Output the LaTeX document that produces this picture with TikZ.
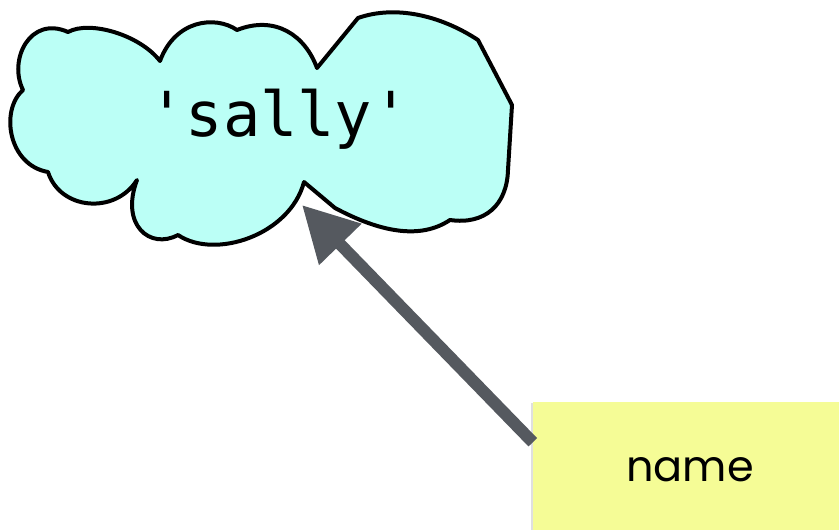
\documentclass[tikz,border=0pt]{standalone}
\usepackage{fontspec}
\usepackage{tikz}
\usetikzlibrary{arrows.meta}
\usetikzlibrary{shadows}
\newfontfamily\valuefont{DejaVu Sans Mono}
\newfontfamily\namefont{Poppins}
\definecolor{cloudfill}{RGB}{187,255,246}
\definecolor{notefill}{RGB}{245,252,150}
\definecolor{pointer}{RGB}{85,89,95}
\tikzstyle{cloud} = [draw=black,fill=cloudfill,line width=4pt,line join=round]
\tikzstyle{value} = [font=\valuefont\fontsize{62}{74}\selectfont,anchor=base]
\tikzstyle{label} = [fill=notefill,minimum width=314pt,minimum height=136pt,
  font=\namefont\fontsize{43}{50}\selectfont,
  drop shadow={shadow xshift=-2pt,shadow yshift=-1pt,opacity=0.25}]
\tikzstyle{connector} = [-{Triangle[length=55pt,width=56pt]},line width=12pt,pointer]

\begin{document}
\begin{tikzpicture}[x=1pt,y=-1pt]
\useasboundingbox (0,0) rectangle (839,530);
\clip (0,0) rectangle (839,530);

  % the object
  \draw[cloud] (23,90) .. controls (8,60) and (30,15) .. (68,32)
    .. controls (90,20) and (140,35) .. (160,61)
    .. controls (175,20) and (215,15) .. (237,30)
    .. controls (275,15) and (305,35) .. (317,68)
    -- (358,18)
    .. controls (395,5) and (440,15) .. (478,40)
    -- (512,105) -- (508,170)
    .. controls (507,205) and (485,225) .. (450,220)
    .. controls (420,240) and (380,232) .. (335,208)
    -- (304,182)
    .. controls (290,235) and (215,260) .. (178,235)
    .. controls (150,250) and (120,225) .. (137,180)
    .. controls (115,215) and (60,210) .. (48,172)
    .. controls (8,165) and (0,110) .. (23,90) -- cycle;
  \node[value] (sally) at (279,136) {'sally'};
  \coordinate (tip) at (302,205);

  % the variable
  \node[label] (name) at (690,470) {name};

% now link the nodes

\draw [connector] (name.170) -- (tip);
\end{tikzpicture}
\end{document}
